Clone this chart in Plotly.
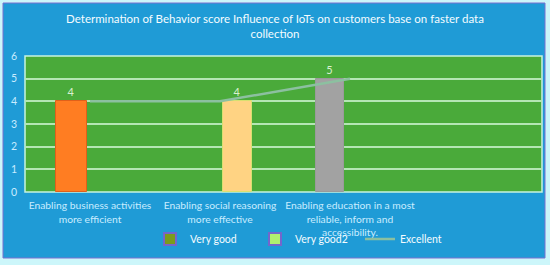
import plotly.graph_objects as go

categories = [
    "Enabling business activities<br>more efficient",
    "Enabling social reasoning<br>more effective",
    "Enabling education in a most<br>reliable, inform and<br>accessibility.",
]
very_good = [4, 4, 5]
excellent = [4, 4, 5]
y_ticks = [0, 1, 2, 3, 4, 5, 6]
title_text = "Determination of Behavior score Influence of IoTs on customers base on faster data<br>collection"

FONT = "Lato"
idx = list(range(len(categories)))

fig = go.Figure()

# bars
fig.add_trace(go.Bar(
    x=idx, y=very_good,
    offset=[-0.262, 0.023, -0.262],
    width=[0.238, 0.223, 0.215],
    marker=dict(color=["#ff7d22", "#ffd383", "#a2a2a2"],
                line=dict(color=["#e0601a", "#d8e070", "#9a9a9a"], width=1)),
    text=[str(v) for v in very_good], textposition="outside",
    textfont=dict(family=FONT, size=11, color="#d8f0d0"),
    cliponaxis=False, showlegend=False, hoverinfo="skip",
))

# line
fig.add_trace(go.Scatter(
    x=idx, y=excellent, mode="lines",
    line=dict(color="#8cc0a0", width=2.5), showlegend=False,
))

# legend entries
fig.add_trace(go.Bar(x=[None], y=[None], name="Very good",
                     marker=dict(color="#7a9c1c", line=dict(color="#7466cc", width=2))))
fig.add_trace(go.Bar(x=[None], y=[None], name="Very good2",
                     marker=dict(color="#b0f070", line=dict(color="#7466cc", width=2))))
fig.add_trace(go.Scatter(x=[None], y=[None], mode="lines", name="Excellent",
                         line=dict(color="#8cc0a0", width=2.5)))

# pixel -> paper helpers (plot area x 25..542, y 56..192)
L, R, T, B = 25, 542, 56, 192
def px(X):
    return (X - L) / (R - L)
def py(Y):
    return (B - Y) / (B - T)

shapes = [
    dict(type="rect", xref="paper", yref="paper",
         x0=px(3), x1=px(545), y0=py(258), y1=py(3),
         fillcolor="#1f9bd6", line=dict(color="#7a70d0", width=1), layer="below"),
    dict(type="rect", xref="paper", yref="paper",
         x0=0, x1=1, y0=0, y1=1,
         fillcolor="#4aaa3a", line=dict(color="#c8f4e0", width=1.5), layer="below"),
]

fig.update_layout(
    width=550, height=265,
    margin=dict(l=L, r=550 - R, t=T, b=265 - B, autoexpand=False),
    paper_bgcolor="#ccf6fa",
    plot_bgcolor="rgba(0,0,0,0)",
    shapes=shapes,
    title=dict(text=title_text, x=0.5, xanchor="center", xref="container",
               y=1 - 23 / 265, yanchor="top", yref="container",
               font=dict(family=FONT, size=11.5, color="#f4fbff")),
    barmode="overlay",
    bargap=0,
    xaxis=dict(
        range=[-0.5, 3.477], automargin=False,
        tickmode="array", tickvals=idx, ticktext=categories,
        tickfont=dict(family=FONT, size=10.3, color="#c8ecff"),
        showgrid=False, zeroline=False, showline=False, ticks="",
        tickangle=0, ticklabelstandoff=6,
    ),
    yaxis=dict(
        range=[0, 6], tickmode="array", tickvals=y_ticks, automargin=False,
        tickfont=dict(family=FONT, size=10.5, color="#c8ecff"),
        showgrid=True, gridcolor="#b4e6b4", gridwidth=1.5,
        zeroline=False, showline=False, ticks="", ticklabelstandoff=7,
    ),
    legend=dict(orientation="h", x=px(150), xanchor="left", y=py(239), yanchor="middle",
                font=dict(family=FONT, size=10.5, color="#f4fbff"),
                bgcolor="rgba(0,0,0,0)", entrywidth=60, entrywidthmode="pixels",
                itemwidth=30, traceorder="normal"),
)

fig.write_html("out.html", config={"displayModeBar": False},
               post_script="document.body.style.margin='0';document.body.style.overflow='hidden';")
